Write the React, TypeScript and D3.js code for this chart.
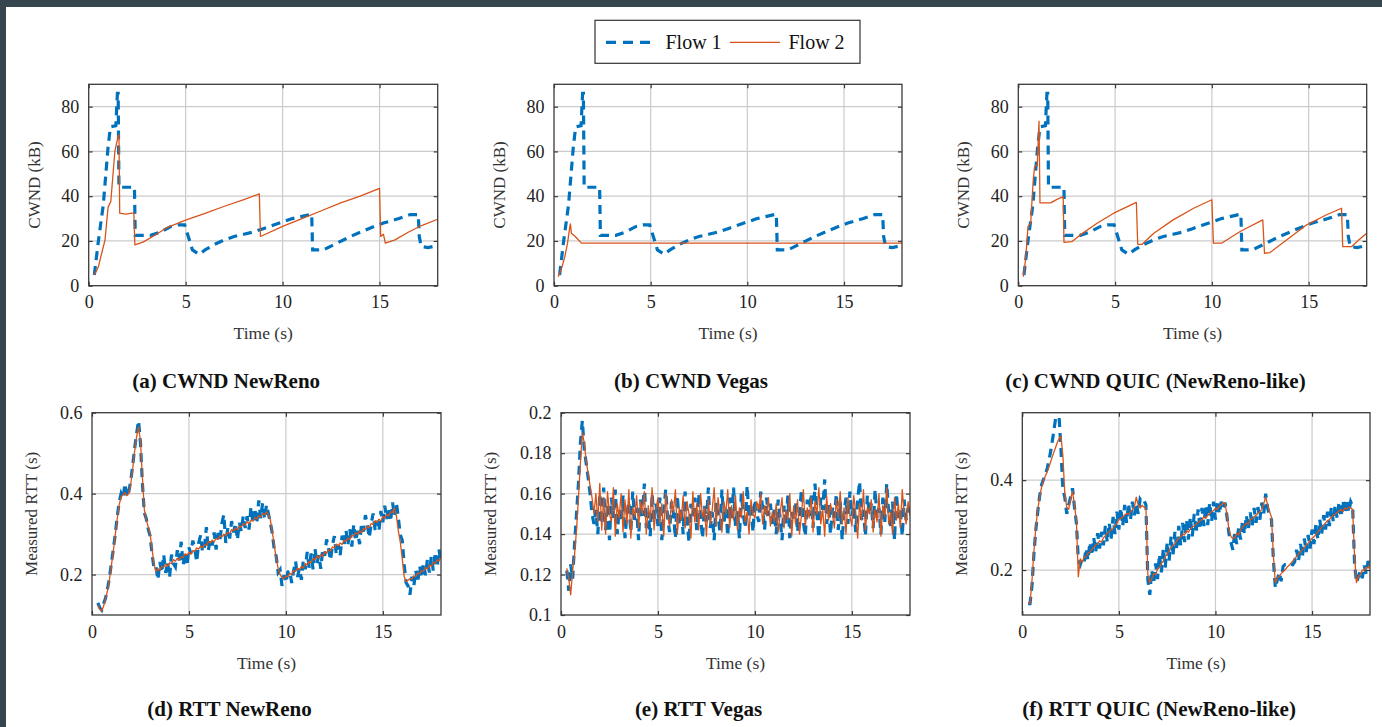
import React, { useEffect, useRef } from 'react';
import * as d3 from 'd3';

const W = 1382;
const H = 727;
const BLUE = '#0072bd';
const ORANGE = '#d95319';
const FONT = '"Liberation Serif", "Times New Roman", serif';

// --- tick values ---
const timeTicks = [0, 5, 10, 15];
const cwndTicks = [0, 20, 40, 60, 80];
const rttTicksNewReno = [0.2, 0.4, 0.6];
const rttTicksVegas = [0.1, 0.12, 0.14, 0.16, 0.18, 0.2];
const rttTicksQuic = [0.2, 0.4];

// --- CWND traces, [time (s), cwnd (kB)] ---
// flow 1 is the same reference TCP flow in all three runs
const flow1Cwnd: [number, number][] = [
  [0.29, 4.8], [0.5, 20], [0.75, 36], [1.0, 62], [1.12, 71], [1.4, 71.5], [1.48, 86], [1.52, 86],
  [1.56, 44], [2.36, 44], [2.4, 22.5], [3.2, 22.5], [3.7, 24], [4.25, 26.5], [4.6, 27.2], [4.95, 27.2],
  [5.35, 16], [5.7, 14], [6.0, 16], [6.5, 18.5], [7.0, 20.5], [7.5, 22], [8.0, 23], [8.5, 24],
  [9.0, 25.5], [9.5, 27], [10.0, 28.5], [10.5, 30], [11.0, 31], [11.5, 32], [11.55, 16], [12.1, 16],
  [12.8, 19], [13.5, 22], [14.5, 25.7], [15.2, 28], [16.0, 30], [16.6, 31.8], [17.0, 31.8], [17.05, 22],
  [17.15, 17.5], [17.5, 17], [18, 18],
];

const newRenoCwnd2: [number, number][] = [
  [0.29, 4.8], [0.5, 8.5], [0.67, 14.5], [0.84, 20.4], [1.0, 35], [1.14, 37.6], [1.35, 60], [1.44, 63.7],
  [1.52, 66.7], [1.56, 67.5], [1.6, 32.4], [1.9, 32], [2.33, 32.5], [2.38, 18.2], [2.8, 19.5], [3.5, 23],
  [4.0, 25.8], [5.0, 29.3], [6.0, 32.3], [7.0, 35.5], [8.0, 38.5], [8.8, 41], [8.86, 22], [10.0, 26.5],
  [11.0, 30], [12.0, 33.5], [13.0, 37], [14.0, 40], [15.0, 43.5], [15.06, 22], [15.2, 23], [15.3, 19],
  [15.8, 20.5], [16.5, 24], [17.2, 27], [18, 29.7],
];

const vegasCwnd2: [number, number][] = [
  [0.22, 4], [0.4, 8], [0.56, 13], [0.7, 19], [0.82, 26.4], [0.85, 27.6], [0.9, 23.4], [1.1, 22],
  [1.42, 19], [18, 19],
];

const quicCwnd2: [number, number][] = [
  [0.26, 4], [0.38, 12], [0.5, 26.4], [0.64, 28], [0.77, 47], [0.84, 53], [0.98, 54], [1.07, 73.5],
  [1.12, 37], [1.67, 37], [2.0, 38.6], [2.32, 39.8], [2.36, 19.4], [2.78, 19.7], [3.2, 22.7], [4.07, 27.9],
  [4.93, 32.4], [6.1, 37.2], [6.17, 18.5], [6.4, 18.5], [7.0, 23.4], [8.0, 29.4], [9.06, 34.6], [10.0, 38.4],
  [10.08, 19], [10.5, 19], [11.46, 24.2], [12.63, 29.4], [12.72, 14.5], [13.0, 14.8], [13.86, 20.4],
  [14.9, 27.2], [15.9, 31.6], [16.7, 34.6], [16.76, 17.5], [17.23, 17.5], [17.6, 20.5], [18, 23.4],
];

// --- RTT traces, sampled every 100 ms from t = 0.3 s, values in ms ---
const rttStart = 0.3;
const rttStep = 0.1;

const newRenoRtt1 = [
  130, 118, 112, 128, 142, 165, 192, 228, 262, 300,
  342, 378, 400, 388, 425, 392, 405, 432, 470, 512,
  548, 580, 525, 425, 352, 338, 312, 295, 250, 215,
  220, 187, 231, 205, 249, 204, 231, 193, 249, 227,
  219, 260, 235, 281, 223, 256, 221, 267, 252, 284,
  265, 231, 278, 297, 256, 268, 317, 259, 290, 272,
  304, 262, 303, 285, 327, 348, 278, 314, 289, 332,
  304, 327, 286, 328, 307, 345, 315, 344, 311, 368,
  327, 364, 326, 383, 339, 377, 337, 372, 350, 328,
  302, 262, 245, 205, 212, 172, 198, 180, 206, 210,
  179, 210, 233, 194, 215, 187, 236, 213, 256, 217,
  252, 213, 264, 227, 248, 214, 263, 246, 287, 264,
  235, 272, 295, 250, 273, 248, 296, 273, 310, 273,
  312, 269, 324, 283, 308, 275, 324, 306, 347, 324,
  291, 326, 351, 310, 333, 308, 357, 329, 370, 337,
  366, 331, 378, 345, 378, 340, 298, 285, 225, 180,
  172, 150, 195, 172, 210, 180, 222, 192, 228, 198,
  238, 205, 245, 210, 255, 218, 262, 225,
];

const newRenoRtt2 = [
  125, 115, 110, 122, 140, 160, 188, 222, 258, 298,
  338, 372, 392, 398, 402, 395, 400, 425, 462, 505,
  540, 565, 530, 440, 360, 335, 318, 300, 262, 225,
  207, 214, 211, 220, 218, 226, 220, 229, 227, 237,
  233, 240, 236, 244, 242, 251, 248, 255, 250, 259,
  257, 266, 263, 270, 266, 274, 272, 282, 278, 285,
  281, 289, 287, 296, 293, 300, 296, 304, 302, 311,
  308, 315, 311, 319, 317, 326, 323, 330, 326, 334,
  332, 341, 338, 345, 342, 351, 348, 355, 348, 335,
  305, 272, 240, 215, 200, 193, 190, 196, 195, 203,
  200, 210, 208, 216, 212, 220, 216, 227, 224, 232,
  229, 239, 237, 246, 241, 249, 245, 256, 253, 261,
  258, 268, 266, 275, 271, 278, 274, 285, 282, 290,
  287, 297, 295, 304, 300, 308, 303, 314, 311, 319,
  316, 326, 324, 333, 329, 337, 332, 343, 340, 348,
  345, 355, 353, 365, 345, 308, 280, 240, 195, 182,
  186, 190, 189, 197, 195, 204, 202, 210, 208, 217,
  214, 223, 221, 230, 228, 236, 234, 243,
];

const vegasRtt1 = [
  122, 112, 125, 118, 135, 150, 165, 185, 196, 182,
  175, 168, 160, 150, 145, 152, 140,
  160, 145, 163, 142, 155, 137, 158, 148, 162, 140,
  152, 146, 159, 138, 150, 156, 141, 161, 147, 153,
  137, 157, 149, 165, 143, 151, 139, 160, 146, 155,
  144, 158, 137, 152, 162, 148, 141, 156, 150, 138,
  159, 145, 153, 140, 161, 147, 136, 155, 149, 158,
  142, 160, 148, 138, 154, 146, 163, 143, 151, 137,
  156, 149, 141, 162, 145, 153, 139, 158, 147, 163,
  144, 152, 138, 160, 150, 143, 164, 148, 155, 141,
  157, 150, 146, 161, 153, 142, 158, 149, 155, 145,
  152, 140, 157, 148, 137, 154, 145, 159, 138, 151,
  147, 156, 141, 150, 162, 146, 139, 157, 149, 160,
  143, 165, 150, 138, 158, 152, 167, 145, 155, 140,
  153, 148, 160, 142, 156, 137, 151, 158, 145, 161,
  149, 154, 141, 157, 166, 147, 152, 139, 159, 150,
  155, 143, 162, 148, 153, 140, 158, 146, 165, 151,
  144, 156, 137, 160, 148, 152, 139, 157, 147, 153,
  150,
];

const vegasRtt2 = [
  123, 118, 110, 122, 130, 142, 158, 175, 190, 185,
  176, 170, 164, 158, 150, 160, 146,
  165, 142, 158, 140, 161, 150, 146, 163, 139, 155,
  148, 160, 141, 157, 145, 162, 138, 153, 149, 159,
  143, 156, 150, 161, 140, 154, 147, 163, 142, 152,
  158, 145, 155, 139, 160, 149, 144, 157, 151, 162,
  140, 153, 147, 159, 143, 156, 150, 138, 161, 146,
  155, 142, 160, 148, 153, 139, 157, 145, 152, 163,
  144, 158, 149, 141, 156, 150, 162, 143, 154, 147,
  159, 142, 153, 148, 161, 146, 151, 140, 157, 150,
  148, 156, 152, 160, 145, 154, 149, 158, 144, 151,
  146, 155, 141, 150, 158, 143, 152, 147, 160, 139,
  154, 145, 157, 140, 149, 162, 144, 153, 148, 158,
  141, 156, 150, 163, 145, 152, 139, 159, 147, 155,
  150, 143, 157, 148, 161, 145, 153, 140, 158, 149,
  144, 159, 151, 138, 155, 147, 162, 142, 153, 150,
  157, 141, 152, 146, 160, 139, 154, 149, 163, 145,
  151, 140, 158, 147, 155, 143, 162, 150, 145, 156,
  149,
];

const quicRtt1 = [
  125, 125, 165, 235, 290, 330, 365, 390, 402, 412,
  428, 448, 472, 500, 530, 560, 545, 470, 380, 362,
  325, 345, 362, 382, 340, 305, 222, 212, 225, 218,
  248, 222, 262, 232, 272, 240, 282, 248, 285, 255,
  298, 262, 305, 270, 318, 280, 330, 290, 338, 298,
  345, 305, 348, 312, 352, 322, 348, 325, 358, 352,
  355, 345, 178, 145, 200, 170, 215, 180, 235, 195,
  248, 205, 262, 220, 275, 232, 285, 245, 298, 255,
  305, 262, 312, 268, 318, 275, 325, 282, 335, 290,
  338, 298, 345, 300, 350, 308, 352, 312, 355, 325,
  352, 338, 350, 318, 280, 262, 245, 285, 258, 295,
  268, 310, 280, 322, 290, 328, 298, 338, 305, 340,
  312, 350, 325, 370, 338, 322, 312, 222, 160, 178,
  195, 175, 208, 212, 212, 210, 214, 212, 218, 245,
  220, 258, 230, 270, 240, 278, 248, 290, 258, 302,
  268, 312, 280, 322, 290, 330, 298, 340, 308, 345,
  315, 352, 318, 355, 325, 358, 328, 352, 342, 215,
  172, 185, 198, 182, 210, 192, 220, 208,
];

const quicRtt2 = [
  128, 126, 175, 240, 295, 335, 362, 385, 400, 410,
  420, 432, 445, 458, 470, 482, 492, 498, 455, 370,
  340, 335, 358, 375, 345, 310, 185, 225, 218, 228,
  230, 238, 240, 246, 250, 256, 258, 265, 262, 272,
  276, 282, 285, 290, 292, 298, 305, 312, 315, 318,
  322, 326, 324, 330, 334, 340, 362, 345, 338, 344,
  340, 338, 190, 172, 180, 192, 190, 202, 205, 215,
  220, 230, 236, 242, 250, 255, 258, 266, 270, 274,
  280, 278, 288, 284, 292, 296, 298, 302, 305, 310,
  312, 318, 315, 322, 326, 330, 332, 338, 335, 342,
  345, 350, 348, 322, 290, 275, 270, 272, 282, 278,
  290, 295, 300, 305, 302, 312, 315, 318, 322, 326,
  330, 335, 348, 362, 345, 330, 318, 230, 172, 182,
  186, 192, 196, 200, 206, 210, 215, 220, 226, 230,
  236, 240, 245, 250, 255, 260, 266, 270, 274, 280,
  285, 290, 295, 300, 305, 310, 312, 318, 322, 324,
  328, 332, 335, 330, 338, 336, 340, 338, 335, 230,
  172, 185, 190, 200, 198, 206, 204, 214,
];

const rttPoints = (ms: number[]): [number, number][] =>
  ms.map((v, i) => [rttStart + i * rttStep, v / 1000]);

const fmtRtt = (d: number) => String(+d.toFixed(2));

type Panel = {
  id: string;
  box: [number, number, number, number];
  yDomain: [number, number];
  yTicks: number[];
  yFormat: (d: number) => string;
  yLabel: string;
  yLabelDx: number;
  caption: string;
  flow1: [number, number][];
  flow2: [number, number][];
};

const CWND_TOP = 84.3;
const CWND_BOTTOM = 285.7;
const RTT_TOP = 412.7;
const RTT_BOTTOM = 615;

const panels: Panel[] = [
  { id: 'a', box: [88.7, CWND_TOP, 437.7, CWND_BOTTOM], yDomain: [0, 90], yTicks: cwndTicks, yFormat: String,
    yLabel: 'CWND (kB)', yLabelDx: 55, caption: '(a) CWND NewReno', flow1: flow1Cwnd, flow2: newRenoCwnd2 },
  { id: 'b', box: [554, CWND_TOP, 902, CWND_BOTTOM], yDomain: [0, 90], yTicks: cwndTicks, yFormat: String,
    yLabel: 'CWND (kB)', yLabelDx: 55, caption: '(b) CWND Vegas', flow1: flow1Cwnd, flow2: vegasCwnd2 },
  { id: 'c', box: [1018.3, CWND_TOP, 1366.7, CWND_BOTTOM], yDomain: [0, 90], yTicks: cwndTicks, yFormat: String,
    yLabel: 'CWND (kB)', yLabelDx: 55, caption: '(c) CWND QUIC (NewReno-like)', flow1: flow1Cwnd, flow2: quicCwnd2 },
  { id: 'd', box: [92, RTT_TOP, 441, RTT_BOTTOM], yDomain: [0.1, 0.6], yTicks: rttTicksNewReno, yFormat: fmtRtt,
    yLabel: 'Measured RTT (s)', yLabelDx: 61, caption: '(d) RTT NewReno',
    flow1: rttPoints(newRenoRtt1), flow2: rttPoints(newRenoRtt2) },
  { id: 'e', box: [561, RTT_TOP, 910, RTT_BOTTOM], yDomain: [0.1, 0.2], yTicks: rttTicksVegas, yFormat: fmtRtt,
    yLabel: 'Measured RTT (s)', yLabelDx: 70.5, caption: '(e) RTT Vegas',
    flow1: rttPoints(vegasRtt1), flow2: rttPoints(vegasRtt2) },
  { id: 'f', box: [1022.3, RTT_TOP, 1370, RTT_BOTTOM], yDomain: [0.1, 0.55], yTicks: rttTicksQuic, yFormat: fmtRtt,
    yLabel: 'Measured RTT (s)', yLabelDx: 61, caption: '(f) RTT QUIC (NewReno-like)',
    flow1: rttPoints(quicRtt1), flow2: rttPoints(quicRtt2) },
];

export default function App() {
  const svgRef = useRef<SVGSVGElement>(null);

  useEffect(() => {
    const svg = d3.select(svgRef.current).html('');
    svg.append('rect').attr('width', W).attr('height', H).attr('fill', '#fff');
    // dark frame of the screenshot
    svg.append('rect').attr('width', W).attr('height', 7).attr('fill', '#36464e');
    svg.append('rect').attr('width', 6).attr('height', H).attr('fill', '#36464e');

    const defs = svg.append('defs');

    panels.forEach((p) => {
      const [x0, y0, x1, y1] = p.box;
      const x = d3.scaleLinear().domain([0, 18]).range([x0, x1]);
      const y = d3.scaleLinear().domain(p.yDomain).range([y1, y0]);
      const g = svg.append('g');

      // grid
      g.selectAll('.vgrid')
        .data(timeTicks.filter((t) => x(t) > x0 + 1))
        .join('line')
        .attr('x1', (d) => x(d)).attr('x2', (d) => x(d))
        .attr('y1', y0).attr('y2', y1)
        .attr('stroke', '#cbcbcb').attr('stroke-width', 1.2);
      g.selectAll('.hgrid')
        .data(p.yTicks.filter((v) => y(v) > y0 + 1 && y(v) < y1 - 1))
        .join('line')
        .attr('x1', x0).attr('x2', x1)
        .attr('y1', (d) => y(d)).attr('y2', (d) => y(d))
        .attr('stroke', '#cbcbcb').attr('stroke-width', 1.2);

      // data
      defs.append('clipPath').attr('id', `clip-${p.id}`)
        .append('rect').attr('x', x0).attr('y', y0).attr('width', x1 - x0).attr('height', y1 - y0);
      const line = d3.line<[number, number]>().x((d) => x(d[0])).y((d) => y(d[1]));
      const lines = g.append('g').attr('clip-path', `url(#clip-${p.id})`);
      lines.append('path').datum(p.flow1)
        .attr('d', line).attr('fill', 'none')
        .attr('stroke', BLUE).attr('stroke-width', 3.2)
        .attr('stroke-dasharray', '9 6');
      lines.append('path').datum(p.flow2)
        .attr('d', line).attr('fill', 'none')
        .attr('stroke', ORANGE).attr('stroke-width', 1.3)
        .attr('stroke-linejoin', 'round');

      // axes (ticks point inward)
      const left = g.append('g').attr('transform', `translate(${x0},0)`)
        .call(d3.axisLeft(y).tickValues(p.yTicks).tickFormat((d) => p.yFormat(d as number)).tickSize(-4).tickPadding(9.5));
      const bottom = g.append('g').attr('transform', `translate(0,${y1})`)
        .call(d3.axisBottom(x).tickValues(timeTicks).tickFormat((d) => String(d)).tickSize(-4).tickPadding(10));
      g.append('g').attr('transform', `translate(${x1},0)`)
        .call(d3.axisRight(y).tickValues(p.yTicks).tickFormat(() => '').tickSize(-4));
      g.append('g').attr('transform', `translate(0,${y0})`)
        .call(d3.axisTop(x).tickValues(timeTicks).tickFormat(() => '').tickSize(-4));
      g.selectAll('.domain').remove();
      g.selectAll('.tick line').attr('stroke', '#3a3a3a').attr('stroke-width', 1.2);
      [left, bottom].forEach((a) =>
        a.selectAll('text').attr('font-family', FONT).attr('font-size', 18).attr('fill', '#222'));

      g.append('rect')
        .attr('x', x0).attr('y', y0).attr('width', x1 - x0).attr('height', y1 - y0)
        .attr('fill', 'none').attr('stroke', '#3a3a3a').attr('stroke-width', 1.3);

      // labels
      const cx = (x0 + x1) / 2;
      g.append('text')
        .attr('x', cx).attr('y', y1 + 53.5)
        .attr('text-anchor', 'middle')
        .attr('font-family', FONT).attr('font-size', 17.5).attr('fill', '#333')
        .text('Time (s)');
      g.append('text')
        .attr('transform', `translate(${x0 - p.yLabelDx},${(y0 + y1) / 2}) rotate(-90)`)
        .attr('text-anchor', 'middle').attr('dy', '0.35em')
        .attr('font-family', FONT).attr('font-size', 17).attr('fill', '#333')
        .text(p.yLabel);
      g.append('text')
        .attr('x', cx - 37).attr('y', y0 === CWND_TOP ? 387.5 : 715.5)
        .attr('text-anchor', 'middle')
        .attr('font-family', FONT).attr('font-size', 21).attr('font-weight', 'bold').attr('fill', '#111')
        .text(p.caption);
    });

    // legend
    const lg = svg.append('g');
    lg.append('rect').attr('x', 595).attr('y', 20.3).attr('width', 265).attr('height', 43)
      .attr('fill', '#fff').attr('stroke', '#333').attr('stroke-width', 1.2);
    lg.append('line').attr('x1', 606).attr('x2', 652).attr('y1', 42.3).attr('y2', 42.3)
      .attr('stroke', BLUE).attr('stroke-width', 3.2).attr('stroke-dasharray', '10 7');
    lg.append('text').attr('x', 665.5).attr('y', 48.5)
      .attr('font-family', FONT).attr('font-size', 20).attr('fill', '#111').text('Flow 1');
    lg.append('line').attr('x1', 730).attr('x2', 780).attr('y1', 42.3).attr('y2', 42.3)
      .attr('stroke', ORANGE).attr('stroke-width', 1.3);
    lg.append('text').attr('x', 788.5).attr('y', 48.5)
      .attr('font-family', FONT).attr('font-size', 20).attr('fill', '#111').text('Flow 2');
  }, []);

  return (
    <div style={{ position: 'absolute', left: 0, top: 0 }}>
      <svg ref={svgRef} width={W} height={H} style={{ display: 'block' }} />
    </div>
  );
}
